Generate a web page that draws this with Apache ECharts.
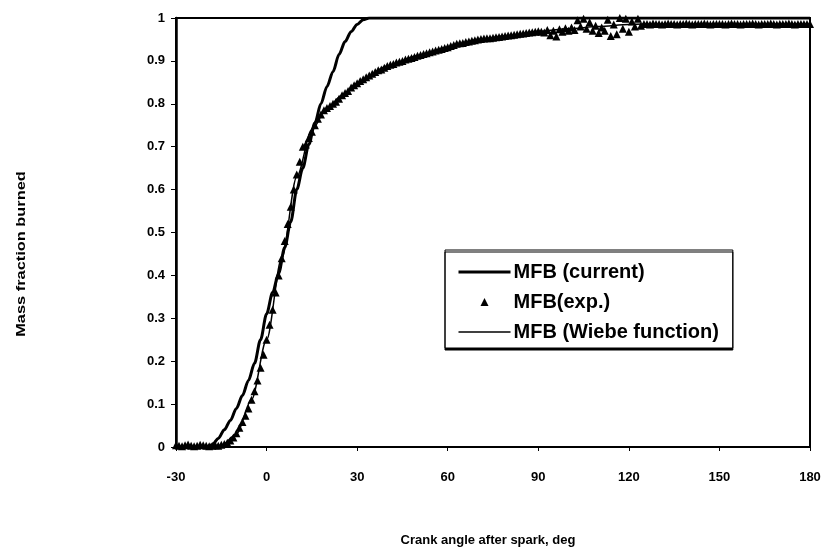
<!DOCTYPE html>
<html>
<head>
<meta charset="utf-8">
<title>Mass fraction burned</title>
<script src="https://cdn.jsdelivr.net/npm/echarts@6/dist/echarts.min.js"></script>
<style>
html, body { margin: 0; padding: 0; background: #fff; }
#main { width: 825px; height: 550px; }
</style>
</head>
<body>
<div id="main"></div>
<script>
// crank angle after spark (deg) for the measured points
var expAngle = [
  -30,-29,-28,-27,-26,-25,-24,-23,-22,-21,-20,-19,-18,-17,-16,
  -15,-14,-13,-12,-11,-10,-9,-8,-7,-6,-5,-4,-3,-2,-1,
  0,1,2,3,4,5,6,7,8,9,10,11,12,13,14,
  15,16,17,18,19,20,21,22,23,24,25,26,27,28,29,
  30,31,32,33,34,35,36,37,38,39,40,41,42,43,44,
  45,46,47,48,49,50,51,52,53,54,55,56,57,58,59,
  60,61,62,63,64,65,66,67,68,69,70,71,72,73,74,
  75,76,77,78,79,80,81,82,83,84,85,86,87,88,89,
  90,91,92,93,94,95,96,97,98,99,100,101,102,103,104,
  105,106,107,108,109,110,111,112,113,114,115,116,117,118,119,
  120,121,122,123,124,125,126,127,128,129,130,131,132,133,134,
  135,136,137,138,139,140,141,142,143,144,145,146,147,148,149,
  150,151,152,153,154,155,156,157,158,159,160,161,162,163,164,
  165,166,167,168,169,170,171,172,173,174,175,176,177,178,179,
  180
];
var expMfb = [
  0.004,0.003,0.002,0.004,0.006,0.003,0.002,0.003,0.005,0.004,0.003,0.002,0.003,0.004,0.003,
  0.005,0.007,0.010,0.015,0.022,0.032,0.045,0.058,0.073,0.090,0.110,0.130,0.155,0.185,0.215,
  0.250,0.285,0.320,0.360,0.400,0.440,0.480,0.520,0.560,0.600,0.635,0.665,0.700,0.705,0.720,
  0.735,0.750,0.765,0.775,0.785,0.790,0.795,0.800,0.805,0.812,0.820,0.825,0.830,0.838,0.843,
  0.848,0.853,0.857,0.862,0.866,0.870,0.874,0.878,0.880,0.884,0.888,0.891,0.893,0.896,0.898,
  0.900,0.903,0.905,0.907,0.909,0.912,0.914,0.916,0.918,0.920,0.922,0.924,0.926,0.928,0.930,
  0.932,0.935,0.937,0.940,0.941,0.942,0.944,0.945,0.947,0.948,0.950,0.951,0.952,0.953,0.953,
  0.954,0.955,0.956,0.957,0.958,0.959,0.960,0.961,0.962,0.963,0.964,0.965,0.966,0.967,0.968,
  0.969,0.968,0.966,0.972,0.960,0.970,0.957,0.974,0.968,0.976,0.970,0.978,0.972,0.995,0.980,
  0.998,0.975,0.990,0.970,0.982,0.965,0.978,0.970,0.996,0.958,0.985,0.962,1.000,0.975,0.998,
  0.968,0.992,0.980,0.998,0.982,0.986,0.986,0.985,0.987,0.986,0.986,0.985,0.986,0.987,0.986,
  0.986,0.985,0.986,0.986,0.987,0.986,0.985,0.986,0.986,0.986,0.987,0.986,0.985,0.986,0.986,
  0.986,0.986,0.985,0.986,0.987,0.986,0.986,0.985,0.986,0.986,0.986,0.987,0.986,0.985,0.986,
  0.986,0.986,0.987,0.986,0.985,0.986,0.986,0.986,0.987,0.986,0.985,0.986,0.986,0.986,0.986,
  0.986
];

// fast model curve (thick line)
var currentAngle = [-30,-20,-18,-16,-14,-12,-10,-8,-6,-4,-2,0,2,4,6,8,10,12,14,16,18,20,22,24,26,28,30,32,34,40,180];
var currentMfb = [0,0,0.005,0.02,0.04,0.062,0.09,0.12,0.155,0.195,0.25,0.31,0.36,0.405,0.465,0.525,0.6,0.65,0.705,0.755,0.8,0.84,0.875,0.915,0.945,0.968,0.985,0.996,1,1,1];

// Wiebe fit (thin line)
var wiebeAngle = [-30,-20,-15,-10,-5,0,5,10,15,20,25,30,40,50,60,70,80,90,100,110,120,125,180];
var wiebeMfb = [0,0,0.004,0.03,0.11,0.25,0.44,0.63,0.74,0.79,0.82,0.848,0.888,0.912,0.932,0.95,0.959,0.969,0.975,0.98,0.985,0.986,0.986];

function pairs(xs, ys) {
    var out = [];
    for (var i = 0; i < xs.length; i++) out.push([xs[i], ys[i]]);
    return out;
}

var font = '"Liberation Sans", Arial, sans-serif';

var myChart = echarts.init(document.getElementById("main"));
var option = {
    animation: false,
    backgroundColor: '#fff',
    grid: {
        left: 176,
        right: 15,
        top: 18,
        bottom: 103,
        show: true,
        borderColor: '#000',
        borderWidth: 2,
        outerBoundsMode: 'none'
    },
    legend: {
        orient: 'vertical',
        left: 445,
        top: 250,
        padding: [12, 14, 6, 12],
        itemGap: 10,
        itemWidth: 52,
        itemHeight: 10,
        backgroundColor: '#fff',
        borderColor: '#000',
        borderWidth: 1,
        shadowColor: '#000',
        shadowBlur: 0,
        shadowOffsetX: 0,
        shadowOffsetY: 2,
        textStyle: {
            fontFamily: font,
            fontSize: 20,
            fontWeight: 'bold',
            color: '#000',
            padding: [0, 0, 0, -2]
        },
        data: [
            { name: 'MFB (current)', itemStyle: { opacity: 0 }, lineStyle: { width: 3 } },
            { name: 'MFB(exp.)' },
            { name: 'MFB (Wiebe function)', itemStyle: { opacity: 0 }, lineStyle: { width: 1.5 } }
        ]
    },
    xAxis: {
        type: 'value',
        min: -30,
        max: 180,
        interval: 30,
        splitLine: { show: false },
        axisLine: { onZero: false, lineStyle: { color: '#000', width: 2 } },
        axisTick: { show: true, length: 4, lineStyle: { color: '#000' } },
        axisLabel: {
            margin: 24,
            fontFamily: font,
            fontSize: 13,
            fontWeight: 'bold',
            color: '#000'
        }
    },
    yAxis: {
        type: 'value',
        min: 0,
        max: 1,
        interval: 0.1,
        splitLine: { show: false },
        axisLine: { show: true, onZero: false, lineStyle: { color: '#000', width: 2.5 } },
        axisTick: { show: true, length: 5, lineStyle: { color: '#000' } },
        axisLabel: {
            margin: 11,
            fontFamily: font,
            fontSize: 13,
            fontWeight: 'bold',
            color: '#000'
        }
    },
    graphic: [
        {
            type: 'text',
            x: 21,
            y: 254,
            rotation: Math.PI / 2,
            scaleX: 1.26,
            style: {
                text: 'Mass fraction burned',
                font: 'bold 13px ' + font,
                fill: '#000',
                align: 'center',
                verticalAlign: 'middle'
            }
        },
        {
            type: 'text',
            x: 488,
            y: 540,
            style: {
                text: 'Crank angle after spark, deg',
                font: 'bold 13px ' + font,
                fill: '#000',
                align: 'center',
                verticalAlign: 'middle'
            }
        }
    ],
    series: [
        {
            name: 'MFB (current)',
            type: 'line',
            data: pairs(currentAngle, currentMfb),
            symbol: 'none',
            smooth: 0.3,
            smoothMonotone: 'x',
            color: '#000',
            lineStyle: { color: '#000', width: 3 },
            z: 3
        },
        {
            // drawn as a line series with a hidden line, so the legend shows a small triangle
            name: 'MFB(exp.)',
            type: 'line',
            data: pairs(expAngle, expMfb),
            symbol: 'triangle',
            symbolSize: 8,
            showSymbol: true,
            showAllSymbol: true,
            color: '#000',
            itemStyle: { color: '#000' },
            lineStyle: { width: 0, opacity: 0 },
            z: 4
        },
        {
            name: 'MFB (Wiebe function)',
            type: 'line',
            data: pairs(wiebeAngle, wiebeMfb),
            symbol: 'none',
            smooth: 0.3,
            smoothMonotone: 'x',
            color: '#000',
            lineStyle: { color: '#000', width: 1.5 },
            z: 2
        }
    ]
};
myChart.setOption(option);

window.addEventListener('resize', function () {
    myChart.resize();
});
</script>
</body>
</html>
